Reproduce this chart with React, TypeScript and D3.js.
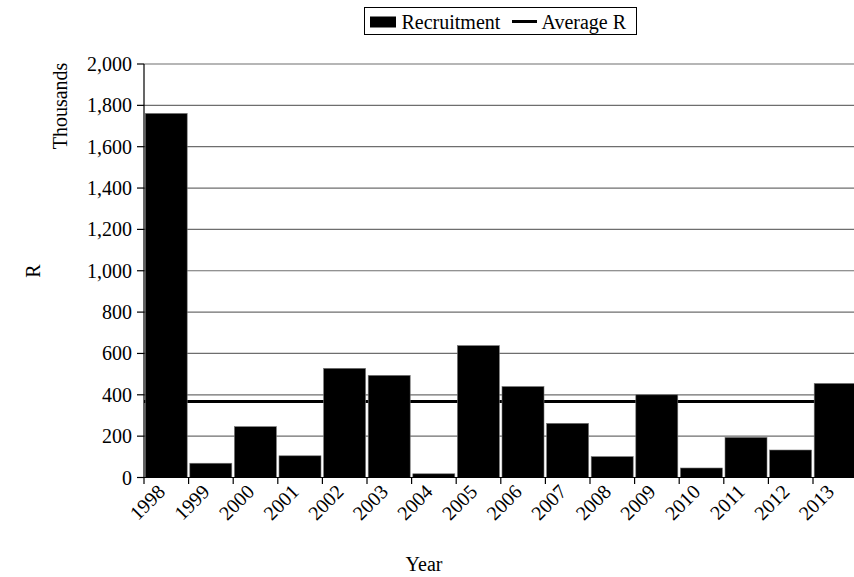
import React from "react";
import * as d3 from "d3";

const years = ["1998","1999","2000","2001","2002","2003","2004","2005","2006","2007","2008","2009","2010","2011","2012","2013"];
const recruitment = [1761, 69, 246, 105, 528, 494, 18, 638, 440, 262, 101, 400, 46, 194, 133, 455];
const averageR = 367;
const yTicks = [0, 200, 400, 600, 800, 1000, 1200, 1400, 1600, 1800, 2000];

const W = 854, H = 577;
const left = 144, top = 64, bottom = 477.5;
const band = 44.6;
const right = left + band * years.length;
const FONT = "Liberation Serif, Times New Roman, serif";
const FS = 20;

export default function App() {
  const x = d3.scaleBand<string>().domain(years).range([left, right]).padding(0);
  const y = d3.scaleLinear().domain([0, 2000]).range([bottom, top]);
  const fmt = d3.format(",");
  const bw = x.bandwidth();
  const boundaries = years.map((yr) => x(yr) as number).concat([right]);

  return (
    <svg width={W} height={H} style={{ position: "fixed", left: 0, top: 0, background: "#fff", fontFamily: FONT, fontSize: FS }}>
      <rect x={0} y={0} width={W} height={H} fill="#fff" />
      {yTicks.filter((t) => t > 0).map((t) => (
        <line key={"g" + t} x1={left} x2={right} y1={y(t)} y2={y(t)} stroke="#6e6e6e" strokeWidth={1.2} />
      ))}
      <line x1={left} x2={right} y1={y(averageR)} y2={y(averageR)} stroke="#000" strokeWidth={3} />
      {years.map((yr, i) => (
        <rect key={yr} x={(x(yr) as number) + 1.2} width={bw - 2.6} y={y(recruitment[i])}
          height={bottom - y(recruitment[i])} fill="#000" stroke="#777" strokeWidth={0.6} />
      ))}
      <line x1={left} x2={left} y1={top} y2={bottom} stroke="#000" strokeWidth={1.2} />
      <line x1={left} x2={right} y1={bottom} y2={bottom} stroke="#000" strokeWidth={1.2} />
      {yTicks.map((t) => (
        <g key={"t" + t}>
          <line x1={left - 7} x2={left} y1={y(t)} y2={y(t)} stroke="#000" strokeWidth={1.2} />
          <text x={left - 12} y={y(t)} dy="0.35em" textAnchor="end">{fmt(t)}</text>
        </g>
      ))}
      {boundaries.map((b, i) => (
        <line key={"xt" + i} x1={b} x2={b} y1={bottom} y2={bottom + 6.5} stroke="#000" strokeWidth={1.2} />
      ))}
      {years.map((yr) => {
        const cx = (x(yr) as number) + bw / 2;
        return (
          <text key={"l" + yr} transform={`translate(${cx},${bottom + 15.5}) rotate(-45)`} textAnchor="end">{yr}</text>
        );
      })}
      <text transform={`translate(67,106) rotate(-90)`} textAnchor="middle">Thousands</text>
      <text transform={`translate(40,271) rotate(-90)`} textAnchor="middle">R</text>
      <text x={424} y={571} textAnchor="middle">Year</text>
      <rect x={364.5} y={7.5} width={272} height={27} fill="#fff" stroke="#000" strokeWidth={1} />
      <rect x={370} y={16.5} width={26} height={11} fill="#000" />
      <text x={401.5} y={28.5}>Recruitment</text>
      <line x1={512} x2={537} y1={21.5} y2={21.5} stroke="#000" strokeWidth={3} />
      <text x={541.5} y={28.5}>Average R</text>
    </svg>
  );
}
